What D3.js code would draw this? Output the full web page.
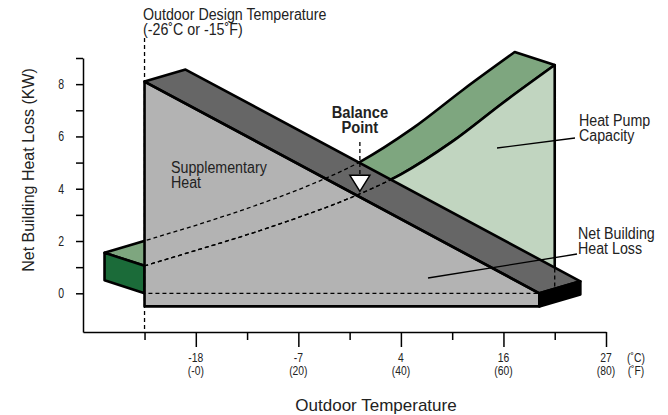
<!DOCTYPE html>
<html>
<head>
<meta charset="utf-8">
<script src="https://cdn.jsdelivr.net/npm/d3@7"></script>
<style>
  body { margin: 0; background: #fff; }
  svg text { font-family: "Liberation Sans", Arial, sans-serif; fill: #222; }
</style>
</head>
<body>
<div class="container"></div>
<script>
const width = 668;
const height = 415;

// axis values
const kwTicks = [0, 1, 2, 3, 4, 5, 6, 7, 8, 9];
const tempTicksF = [-10, 0, 10, 20, 30, 40, 50, 60, 70, 80];
const labelTicksF = [0, 20, 40, 60, 80];
const labelsC = ["-18", "-7", "4", "16", "27"];
const labelsF = ["(-0)", "(20)", "(40)", "(60)", "(80)"];
const designTempF = -10;

// net building heat loss (front top edge of the grey slab)
const lossTemp = [-10, 67];
const lossKW = [8.1, 0];
const slabBottomKW = -0.5;

// heat pump capacity (front edge of the green ribbon)
const pumpTemp = [-10, 0, 10, 20, 30, 40, 50, 60, 70];
const pumpKW = [1.05, 1.64, 2.24, 2.9, 3.64, 4.55, 5.8, 7.3, 8.73];
const pumpBottomKW = 0;

// balance point
const balanceTemp = 32;
const balanceKW = 3.9;

// fake 3d depth (pixels)
const lossDepth = [41, -12];
const pumpDepth = [-40, -13];

const svg = d3.select(".container")
    .append("svg")
    .attr("width", width)
    .attr("height", height);

const x = d3.scaleLinear().domain([-22, 80]).range([83, 606]);
const y = d3.scaleLinear().domain([-1.48, 9]).range([332, 58]);

const shift = (p, d) => [p[0] + d[0], p[1] + d[1]];
const poly = pts => "M" + pts.map(p => p.join(",")).join("L") + "Z";
const curve = d3.line().curve(d3.curveCatmullRom.alpha(0.5));

// squeeze text a bit, the original uses a condensed face
function narrow(sel, k) {
    sel.each(function () {
        const w = this.getComputedTextLength();
        d3.select(this).attr("textLength", w * k).attr("lengthAdjust", "spacingAndGlyphs");
    });
}

// design temperature reference line
svg.append("line")
    .attr("x1", x(designTempF)).attr("x2", x(designTempF))
    .attr("y1", 38).attr("y2", y.range()[0])
    .attr("stroke", "#000")
    .attr("stroke-width", 1.3)
    .attr("stroke-dasharray", "4,3");

// ---- heat pump ribbon ----
const front = pumpTemp.map((t, i) => [x(t), y(pumpKW[i])]);
const back = front.map(p => shift(p, pumpDepth));
const t0 = pumpTemp[0], t1 = pumpTemp[pumpTemp.length - 1];

const bandPath = curve(front) + curve(back.slice().reverse()).replace(/^M/, "L") + "Z";
const facePath = curve(front) + "L" + [x(t1), y(pumpBottomKW)] + "L" + [x(t0), y(pumpBottomKW)] + "Z";
const capPts = [front[0], back[0], shift([x(t0), y(pumpBottomKW)], pumpDepth), [x(t0), y(pumpBottomKW)]];

svg.append("path").attr("d", bandPath)
    .attr("fill", "#7ea67f").attr("stroke", "#000").attr("stroke-width", 2.6).attr("stroke-linejoin", "round");
svg.append("path").attr("d", facePath)
    .attr("fill", "#c1d5c0").attr("stroke", "#000").attr("stroke-width", 2.6).attr("stroke-linejoin", "round");
svg.append("path").attr("d", poly(capPts))
    .attr("fill", "#1b6b39").attr("stroke", "#000").attr("stroke-width", 2.6).attr("stroke-linejoin", "round");

// ---- heat loss slab ----
const pL = [x(lossTemp[0]), y(lossKW[0])];
const pR = [x(lossTemp[1]), y(lossKW[1])];
const bR = [x(lossTemp[1]), y(slabBottomKW)];
const bL = [x(lossTemp[0]), y(slabBottomKW)];

const slab = [
    { pts: [pL, pR, bR, bL], fill: "#b3b3b3" },
    { pts: [pL, shift(pL, lossDepth), shift(pR, lossDepth), pR], fill: "#666666" },
    { pts: [pR, shift(pR, lossDepth), shift(bR, lossDepth), bR], fill: "#000000" }
];

svg.selectAll("path.slab")
    .data(slab)
    .join("path")
    .attr("class", "slab")
    .attr("d", d => poly(d.pts))
    .attr("fill", d => d.fill);

// hidden edges of the heat pump, dashed over the slab
const clip = svg.append("clipPath").attr("id", "slabClip");
slab.forEach(s => clip.append("path").attr("d", poly(s.pts)));

const hidden = svg.append("g").attr("clip-path", "url(#slabClip)");
[bandPath, facePath].forEach(d => {
    hidden.append("path")
        .attr("d", d)
        .attr("fill", "none")
        .attr("stroke", "#000")
        .attr("stroke-width", 1.3)
        .attr("stroke-dasharray", "4,3");
});

svg.selectAll("path.slabEdge")
    .data(slab)
    .join("path")
    .attr("class", "slabEdge")
    .attr("d", d => poly(d.pts))
    .attr("fill", "none")
    .attr("stroke", "#000")
    .attr("stroke-width", 2.6)
    .attr("stroke-linejoin", "round");

// ---- balance point ----
const bx = x(balanceTemp), by = y(balanceKW);
svg.append("line")
    .attr("x1", bx).attr("x2", bx)
    .attr("y1", 142).attr("y2", by - 16)
    .attr("stroke", "#000").attr("stroke-width", 1.3).attr("stroke-dasharray", "4,3");
svg.append("path")
    .attr("d", poly([[bx, by], [bx - 10, by - 16], [bx + 10, by - 16]]))
    .attr("fill", "#fff").attr("stroke", "#000").attr("stroke-width", 1.5);

svg.append("text").attr("x", bx).attr("y", 118).attr("text-anchor", "middle")
    .style("font-size", "16px").style("font-weight", "bold").text("Balance")
    .call(narrow, 0.92);
svg.append("text").attr("x", bx).attr("y", 133).attr("text-anchor", "middle")
    .style("font-size", "16px").style("font-weight", "bold").text("Point")
    .call(narrow, 0.92);

// ---- axes ----
const yAxis = svg.append("g")
    .attr("transform", `translate(${x.range()[0]},0)`)
    .call(d3.axisLeft(y)
        .tickValues(kwTicks)
        .tickSize(7)
        .tickSizeOuter(0)
        .tickPadding(12)
        .tickFormat(d => (d % 2 === 0 && d < 9) ? d : ""));

const xAxis = svg.append("g")
    .attr("transform", `translate(0,${y.range()[0]})`)
    .call(d3.axisBottom(x)
        .tickValues(tempTicksF)
        .tickSizeOuter(0)
        .tickFormat(""));

xAxis.selectAll(".tick line").attr("y2", d => d % 20 === 0 ? 15 : 8);

[yAxis, xAxis].forEach(g => {
    g.select(".domain").attr("stroke", "#000").attr("stroke-width", 1.5);
    g.selectAll(".tick line").attr("stroke", "#000").attr("stroke-width", 1.5);
});
yAxis.selectAll(".tick text")
    .style("font-size", "14px").attr("fill", "#222")
    .call(narrow, 0.75);

const tickLabels = svg.append("g").style("font-size", "12px");
labelTicksF.forEach((t, i) => {
    tickLabels.append("text").attr("x", x(t)).attr("y", 362).attr("text-anchor", "middle").text(labelsC[i]);
    tickLabels.append("text").attr("x", x(t)).attr("y", 375).attr("text-anchor", "middle").text(labelsF[i]);
});
tickLabels.append("text").attr("x", 636).attr("y", 362).attr("text-anchor", "middle").text("(˚C)");
tickLabels.append("text").attr("x", 636).attr("y", 375).attr("text-anchor", "middle").text("(˚F)");
tickLabels.selectAll("text").call(narrow, 0.86);

svg.append("text")
    .attr("x", 376).attr("y", 411).attr("text-anchor", "middle")
    .style("font-size", "17px").text("Outdoor Temperature");
svg.append("text")
    .attr("transform", "translate(34,170) rotate(-90)")
    .attr("text-anchor", "middle")
    .style("font-size", "16px").text("Net Building Heat Loss (KW)");

// ---- annotations ----
const note = (tx, ty, lines) => {
    lines.forEach((s, i) => {
        svg.append("text").attr("x", tx).attr("y", ty + i * 15)
            .style("font-size", "16px").text(s)
            .call(narrow, 0.89);
    });
};
note(143, 20, ["Outdoor Design Temperature", "(-26˚C or -15˚F)"]);
note(171, 173, ["Supplementary", "Heat"]);
note(579, 126, ["Heat Pump", "Capacity"]);
note(578, 239, ["Net Building", "Heat Loss"]);

svg.append("line").attr("x1", 497).attr("y1", 148).attr("x2", 575).attr("y2", 138)
    .attr("stroke", "#000").attr("stroke-width", 1.3);
svg.append("line").attr("x1", 428).attr("y1", 278).attr("x2", 577).attr("y2", 254)
    .attr("stroke", "#000").attr("stroke-width", 1.3);
</script>
</body>
</html>
